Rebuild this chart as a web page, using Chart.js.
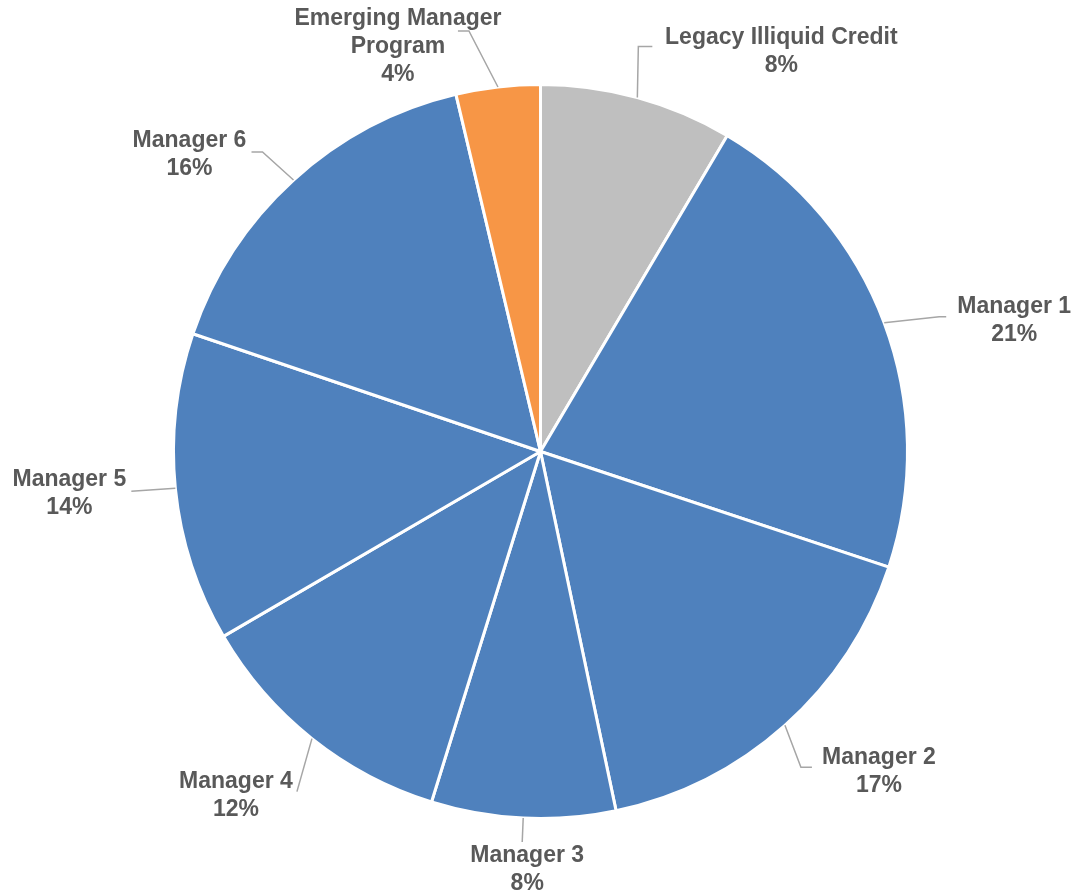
<!DOCTYPE html>
<html>
<head>
<meta charset="utf-8">
<script src="https://cdn.jsdelivr.net/npm/chart.js@4.4.1/dist/chart.umd.min.js"></script>
<style>
    html, body { margin: 0; padding: 0; background: #ffffff; }
    #wrap { width: 1079px; height: 896px; }
</style>
</head>
<body>
<div id="wrap"><canvas id="myChart" width="1079" height="896"></canvas></div>
<script>
// data (clockwise from 12 o'clock)
var categories = [
    ["Legacy Illiquid Credit"],
    ["Manager 1"],
    ["Manager 2"],
    ["Manager 3"],
    ["Manager 4"],
    ["Manager 5"],
    ["Manager 6"],
    ["Emerging Manager", "Program"],
];
var shares = [8.5, 21.6, 16.6, 8.1, 11.8, 13.6, 16.1, 3.7];
var pctLabels = ["8%", "21%", "17%", "8%", "12%", "14%", "16%", "4%"];
var sliceColors = ["#bfbfbf", "#4f81bd", "#4f81bd", "#4f81bd", "#4f81bd", "#4f81bd", "#4f81bd", "#f79646"];

// label placement relative to the slice's mid point on the rim:
// text = centre of first text line, leader = points of the leader line after the rim point
var labelLayout = [
    { text: [144, -60], leader: [[1, -51], [15, -51]] },
    { text: [130, -16], leader: [[55, -6], [62, -6]] },
    { text: [94, 32], leader: [[16, 42], [27, 42]] },
    { text: [4, 38], leader: [[-1, 24]] },
    { text: [-76, 43], leader: [[-15, 53]] },
    { text: [-106, -9], leader: [[-44, 3]] },
    { text: [-104, -39], leader: [[-31, -28], [-42, -28]] },
    { text: [-100, -68], leader: [[-29, -56], [-40, -56]] },
];

var labelFont = "bold 23px 'Liberation Sans', Arial, sans-serif";
var lineGap = 28;

let outsideLabels = {
    id: "outsideLabels",
    afterDatasetsDraw: (chart) => {
        var ctx = chart.ctx;
        var meta = chart.getDatasetMeta(0);
        ctx.save();
        meta.data.forEach((arc, i) => {
            var mid = (arc.startAngle + arc.endAngle) / 2;
            var r = arc.outerRadius;
            var ax = arc.x + Math.cos(mid) * r;
            var ay = arc.y + Math.sin(mid) * r;
            var lay = labelLayout[i];

            // leader line
            ctx.strokeStyle = "#a6a6a6";
            ctx.lineWidth = 1.5;
            ctx.beginPath();
            ctx.moveTo(ax, ay);
            lay.leader.forEach((p) => ctx.lineTo(ax + p[0], ay + p[1]));
            ctx.stroke();

            // text
            ctx.fillStyle = "#595959";
            ctx.font = labelFont;
            ctx.textAlign = "center";
            ctx.textBaseline = "middle";
            var lines = categories[i].concat([pctLabels[i]]);
            lines.forEach((t, k) => {
                ctx.fillText(t, ax + lay.text[0], ay + lay.text[1] + k * lineGap);
            });
        });
        ctx.restore();
    },
};

let drawPie = () => {
    var ctx = document.getElementById("myChart").getContext("2d");
    return new Chart(ctx, {
        type: "pie",
        data: {
            labels: categories.map((c) => c.join(" ")),
            datasets: [
                {
                    data: shares,
                    backgroundColor: sliceColors,
                    borderColor: "#ffffff",
                    borderWidth: 3,
                },
            ],
        },
        options: {
            responsive: false,
            animation: false,
            layout: {
                padding: { left: 172, right: 170, top: 83, bottom: 76 },
            },
            plugins: {
                legend: { display: false },
                tooltip: { enabled: false },
            },
        },
        plugins: [outsideLabels],
    });
};
drawPie();
</script>
</body>
</html>
